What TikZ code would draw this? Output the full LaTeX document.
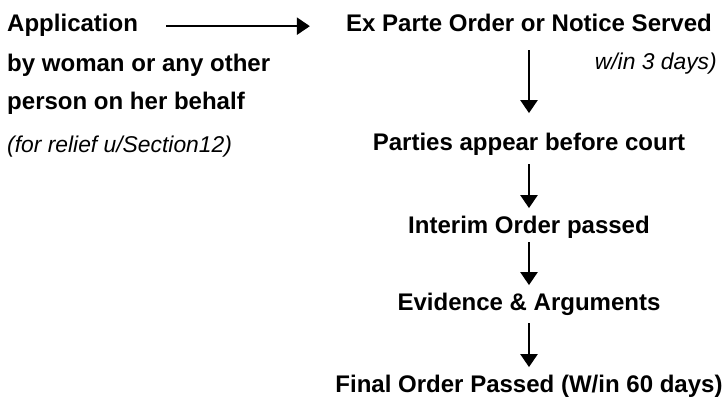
\documentclass[tikz,border=0pt]{standalone}
\usepackage{fontspec}
\setmainfont{Liberation Sans}
\usetikzlibrary{arrows.meta}

\begin{document}
\begin{tikzpicture}[x=0.03cm, y=-0.03cm,
% Node styles
 stage/.style={font=\bfseries\fontsize{20.5}{24}\selectfont, inner sep=0,
 text height=0.5cm, text depth=0.15cm, anchor=base},
 lefttext/.style={stage, anchor=base west},
 note/.style={font=\itshape\fontsize{19.5}{23}\selectfont, inner sep=0},
% Edge styles
 flow/.style={draw, line width=0.07cm, -{Triangle[width=0.51cm, length=0.39cm]},
 shorten <=0.24cm, shorten >=0.24cm}
]
\useasboundingbox (0,0) rectangle (726,397);
% Left column (application)
\node[lefttext] (app) at (7,32) {Application};
\node[lefttext] (bywoman) at (7,72) {by woman or any other};
\node[lefttext] (person) at (7,110) {person on her behalf};
\node[note, anchor=base west] (relief) at (7,153) {(for relief u/Section12)};
% Right column (court steps)
\node[stage] (exparte) at (529,32) {Ex Parte Order or Notice Served};
\node[note, anchor=base east] (days) at (717,70) {w/in 3 days)};
\node[stage] (parties) at (529,151) {Parties appear before court};
\node[stage] (interim) at (529,233) {Interim Order passed};
\node[stage] (evidence) at (529,310) {Evidence \& Arguments};
\node[stage] (final) at (529,392) {Final Order Passed (W/in 60 days)};
% Connect steps with arrows
\draw[flow, shorten <=0.84cm, shorten >=1.08cm] (app.east) -- (exparte.west);
\draw[flow, shorten <=0.39cm, shorten >=0.63cm] (exparte) -- (parties);
\draw[flow] (parties) -- (interim);
\draw[flow, shorten <=0.12cm] (interim) -- (evidence);
\draw[flow] (evidence) -- (final);
\end{tikzpicture}
\end{document}
